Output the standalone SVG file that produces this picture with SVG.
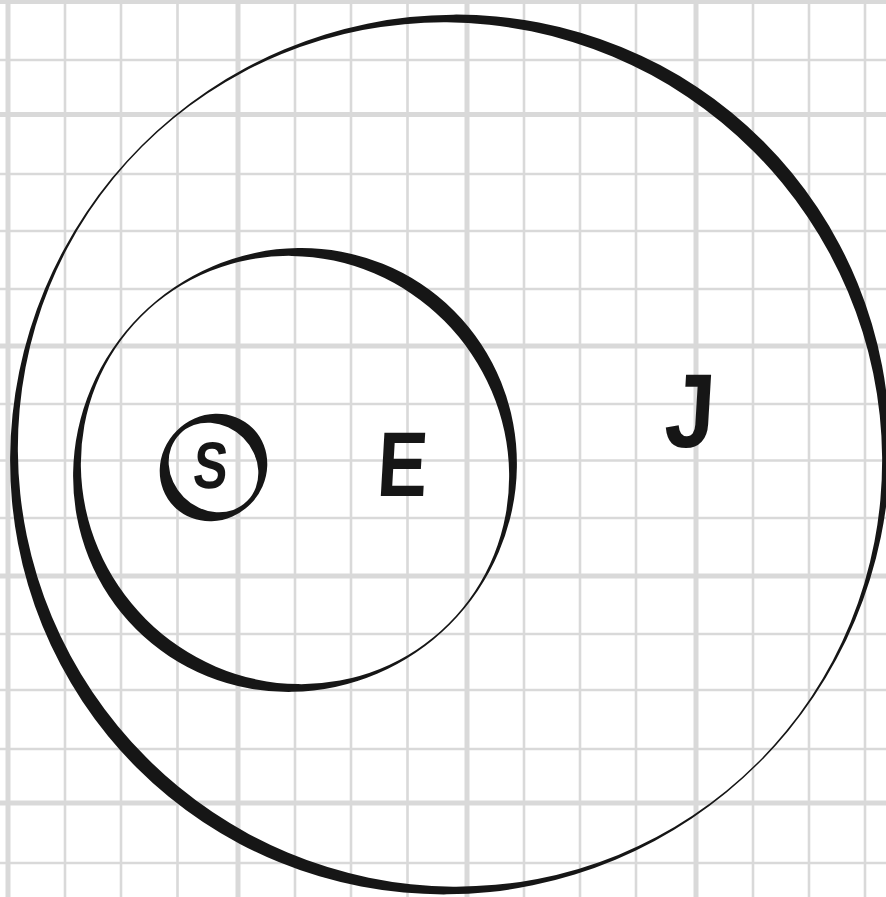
<svg xmlns="http://www.w3.org/2000/svg" width="886" height="897" viewBox="0 0 886 897">
<style>
.g{stroke:#d9d9d9;stroke-width:2.6;fill:none}
.gt{stroke:#d9d9d9;stroke-width:5;fill:none}
.ring{fill:#161616;fill-rule:evenodd;stroke:none}
.lbl{font-family:"Liberation Sans",Arial,sans-serif;font-weight:bold;fill:#161616;text-anchor:middle}
</style>
<rect width="886" height="897" fill="#ffffff"/>
<g id="grid">
<path class="g" d="M65 0V897M121 0V897M177.5 0V897M295 0V897M351 0V897M407.5 0V897M524 0V897M580 0V897M636 0V897M753 0V897M809 0V897M865 0V897"/>
<path class="gt" d="M8 0V897M238 0V897M467 0V897M696 0V897"/>
<path class="g" d="M0 60H886M0 174H886M0 231H886M0 289H886M0 404H886M0 460.5H886M0 518H886M0 634H886M0 690H886M0 749H886M0 863H886"/>
<path class="gt" d="M0 1.5H886M0 114.5H886M0 346H886M0 576H886M0 803H886"/>
</g>
<g id="node-J">
<path class="ring" transform="translate(450,454.5) rotate(-45)" d="M-443 0A443 436.75 0 1 0 443 0A443 436.75 0 1 0 -443 0ZM-429 0A429 435.25 0 1 0 429 0A429 435.25 0 1 0 -429 0Z"/>
<text class="lbl" transform="translate(688,447) scale(0.85,1) skewX(-4)" font-size="105">J</text>
</g>
<g id="node-E">
<path class="ring" transform="translate(295,470) rotate(-45)" d="M-225 0A225 218.75 0 1 0 225 0A225 218.75 0 1 0 -225 0ZM-211 0A211 217.25 0 1 0 211 0A211 217.25 0 1 0 -211 0Z"/>
<text class="lbl" transform="translate(401,496) scale(0.82,1) skewX(-4)" font-size="92">E</text>
</g>
<g id="node-S">
<path class="ring" transform="translate(213.5,467.5) rotate(-45)" d="M-55.5 0A55.5 52 0 1 0 55.5 0A55.5 52 0 1 0 -55.5 0ZM-42 0A42 47.5 0 1 0 42 0A42 47.5 0 1 0 -42 0Z"/>
<text class="lbl" transform="translate(209,488) scale(0.78,1) skewX(-6)" font-size="66">S</text>
</g>
<g id="connectors"/>
</svg>
